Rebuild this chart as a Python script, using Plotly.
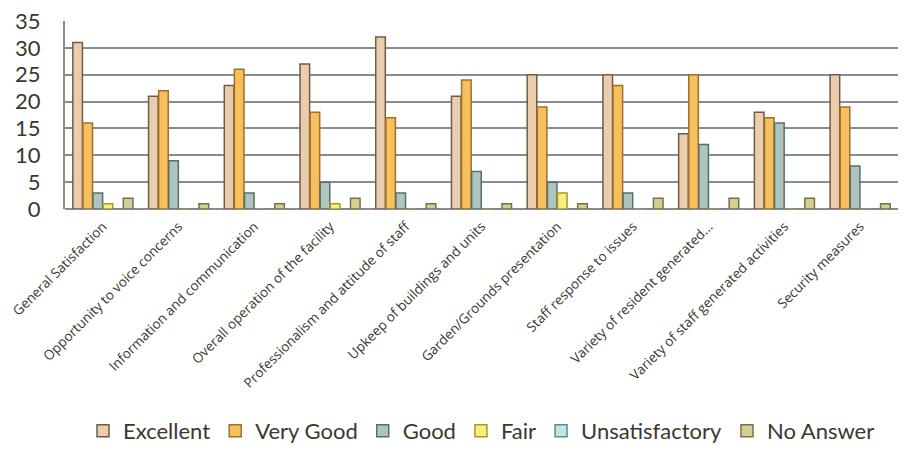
import plotly.graph_objects as go

categories = [
    "General Satisfaction",
    "Opportunity to voice concerns",
    "Information and communication",
    "Overall operation of the facility",
    "Professionalism and attitude of staff",
    "Upkeep of buildings and units",
    "Garden/Grounds presentation",
    "Staff response to issues",
    "Variety of resident generated...",
    "Variety of staff generated activities",
    "Security measures",
]

excellent = [31, 21, 23, 27, 32, 21, 25, 25, 14, 18, 25]
very_good = [16, 22, 26, 18, 17, 24, 19, 23, 25, 17, 19]
good = [3, 9, 3, 5, 3, 7, 5, 3, 12, 16, 8]
fair = [1, 0, 0, 1, 0, 0, 3, 0, 0, 0, 0]
unsatisfactory = [0, 0, 0, 0, 0, 0, 0, 0, 0, 0, 0]
no_answer = [2, 1, 1, 2, 1, 1, 1, 2, 2, 2, 1]

y_ticks = [0, 5, 10, 15, 20, 25, 30, 35]

series = [
    ("Excellent", excellent, "#EBCDAE", "#6E5C46"),
    ("Very Good", very_good, "#F7BF5E", "#9C7128"),
    ("Good", good, "#AEC5BF", "#5A6F6B"),
    ("Fair", fair, "#F8F07C", "#A39A2C"),
    ("Unsatisfactory", unsatisfactory, "#BDE6E7", "#5F8E90"),
    ("No Answer", no_answer, "#D3CF95", "#74714A"),
]

text_color = "#3A382E"

fig = go.Figure()
for name, vals, fill, edge in series:
    fig.add_trace(go.Bar(
        x=categories, y=vals, name=name,
        marker=dict(color=fill, line=dict(color=edge, width=1.5)),
    ))

fig.update_layout(
    width=905, height=459,
    margin=dict(l=65, r=7, t=17, b=247),
    paper_bgcolor="white", plot_bgcolor="white",
    barmode="group", bargap=0.2, bargroupgap=0.05,
    font=dict(family="Open Sans, sans-serif", color=text_color),
    legend=dict(
        orientation="h", x=0.5, xanchor="center", y=-1.18, yanchor="middle",
        font=dict(size=22, color=text_color, family="Lato, sans-serif"),
        itemwidth=30, tracegroupgap=0,
    ),
    showlegend=True,
)
fig.update_xaxes(
    tickangle=-45, tickfont=dict(size=13.5, color=text_color),
    showline=False, showgrid=False, ticks="", ticklabelstandoff=6,
)
fig.update_yaxes(
    range=[0, 35], tickvals=y_ticks,
    tickfont=dict(size=22, color=text_color, family="Lato, sans-serif"),
    showgrid=True, gridcolor="#8C8C8C", gridwidth=2,
    showline=True, linecolor="#8C8C8C", linewidth=2,
    zeroline=True, zerolinecolor="#8C8C8C", zerolinewidth=2,
    ticks="", ticklabelstandoff=18,
)

fig.write_html("out.html")
